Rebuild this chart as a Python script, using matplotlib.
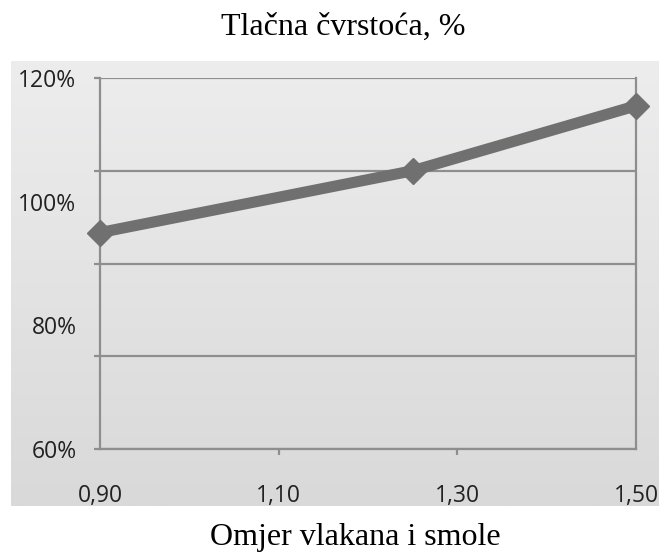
import numpy as np
import matplotlib
matplotlib.use("Agg")
import matplotlib.pyplot as plt
from matplotlib.ticker import FixedLocator, FixedFormatter

# data
ratio = [0.90, 1.25, 1.50]
strength = [95.0, 105.0, 115.5]

x_ticks = [0.90, 1.10, 1.30, 1.50]
x_labels = ["0,90", "1,10", "1,30", "1,50"]
grid_levels = [60, 75, 90, 105, 120]
y_label_levels = [60, 80, 100, 120]
y_labels = ["60%", "80%", "100%", "120%"]

title = "Tlačna čvrstoća, %"
xlabel = "Omjer vlakana i smole"

W, H = 659, 559
fig = plt.figure(figsize=(W / 100, H / 100), dpi=100)

# grey gradient panel behind the chart (Excel chart area)
bg = fig.add_axes([11 / W, (H - 506) / H, (W - 11) / W, 445 / H])
grad = np.linspace(237, 217, 256).reshape(-1, 1) / 255.0
bg.imshow(np.dstack([grad, grad, grad * 1.005]).clip(0, 1), aspect="auto",
          extent=[0, 1, 0, 1])
bg.set_axis_off()

ax = fig.add_axes([100 / W, (H - 449) / H, 536 / W, 371 / H])
ax.set_facecolor("none")

line_col = "#707070"
grid_col = "#8e8e8e"

ax.plot(ratio, strength, color=line_col, lw=8, marker="D", ms=13,
        mec=line_col, mfc=line_col, clip_on=False, zorder=5,
        solid_joinstyle="round")

ax.set_xlim(0.90, 1.50)
ax.set_ylim(60, 120)

# gridlines at the major levels, labels at their own levels
ax.yaxis.set_major_locator(FixedLocator(grid_levels))
ax.yaxis.set_major_formatter(FixedFormatter([""] * len(grid_levels)))
ax.yaxis.set_minor_locator(FixedLocator(y_label_levels))
ax.yaxis.set_minor_formatter(FixedFormatter(y_labels))
ax.yaxis.remove_overlapping_locs = False
ax.grid(axis="y", which="major", color=grid_col, lw=1.6)
ax.tick_params(axis="y", which="major", length=4.5, width=1.6, color=grid_col)
ax.tick_params(axis="y", which="minor", length=0, pad=17,
               labelsize=16.5, labelcolor="#222222")

ax.set_xticks(x_ticks)
ax.set_xticklabels(x_labels)
ax.tick_params(axis="x", length=4.5, width=1.6, color=grid_col, pad=21,
               labelsize=16.5, labelcolor="#222222")
for t in (ax.xaxis.get_major_ticks()[0], ax.xaxis.get_major_ticks()[-1]):
    t.tick1line.set_visible(False)

for side in ["left", "right", "bottom", "top"]:
    ax.spines[side].set_color(grid_col)
    ax.spines[side].set_linewidth(1.6)
ax.spines["top"].set_visible(False)

for lab in ax.get_xticklabels() + ax.get_yticklabels(minor=True):
    lab.set_family(["Open Sans", "DejaVu Sans"])

fig.text(343 / W, 1 - 27 / H, title, ha="center", va="center",
         family="Liberation Serif", fontsize=23)
fig.text(355 / W, 1 - 537 / H, xlabel, ha="center", va="center",
         family="Liberation Serif", fontsize=23)

fig.savefig("out.png", dpi=100)
